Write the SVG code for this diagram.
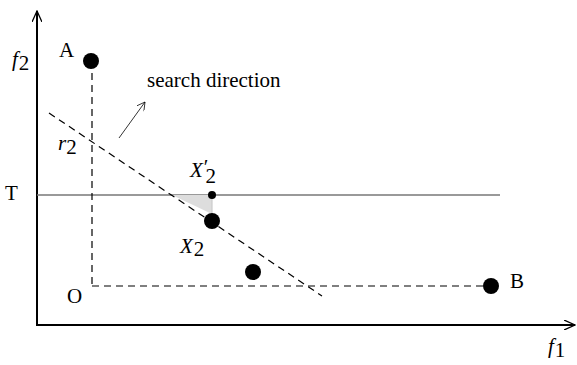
<svg xmlns="http://www.w3.org/2000/svg" width="577" height="365" viewBox="0 0 577 365">
<defs>
<style>
text{font-family:"Liberation Serif","Times New Roman",serif;font-size:21px;fill:#000}
.it{font-style:italic}
.sub{font-style:normal}
.dash{stroke:#000;stroke-width:1.2;stroke-dasharray:7,5;fill:none}
.dot{fill:#000}
</style>
<marker id="ah" viewBox="0 0 12 10" refX="11" refY="5" markerWidth="12" markerHeight="10" markerUnits="userSpaceOnUse" orient="auto">
<path d="M0,0 L11,5 L0,10" fill="none" stroke="#000" stroke-width="1.3"/>
</marker>
<marker id="ah2" viewBox="0 0 10 10" refX="9" refY="5" markerWidth="10" markerHeight="9" markerUnits="userSpaceOnUse" orient="auto">
<path d="M0,0 L9,5 L0,10" fill="none" stroke="#000" stroke-width="0.8"/>
</marker>
</defs>
<g id="connectors">
<line x1="37" y1="326" x2="37" y2="11" stroke="#000" stroke-width="2" marker-end="url(#ah)"/>
<line x1="36" y1="325" x2="575" y2="325" stroke="#000" stroke-width="2" marker-end="url(#ah)"/>
<line x1="37" y1="195" x2="500" y2="195" stroke="#777" stroke-width="1.5"/>
<polygon points="172,195 212,195 212,214" fill="#ddd"/>
<line x1="212" y1="195" x2="212" y2="215" stroke="#ccc" stroke-width="1.2"/>
<line class="dash" x1="92" y1="61" x2="92" y2="286"/>
<line class="dash" x1="92" y1="286" x2="490" y2="286"/>
<line class="dash" x1="49" y1="113" x2="322" y2="296"/>
<line x1="119" y1="138" x2="145" y2="102" stroke="#000" stroke-width="0.8" marker-end="url(#ah2)"/>
</g>
<g id="A"><circle class="dot" cx="91" cy="61" r="8"/><text x="59" y="57">A</text></g>
<g id="B"><circle class="dot" cx="491" cy="286" r="8"/><text x="510" y="288">B</text></g>
<g id="O"><text x="67" y="303">O</text></g>
<g id="T"><text x="5" y="200">T</text></g>
<g id="X2p"><circle class="dot" cx="212" cy="195" r="4"/><text x="190" y="177" class="it">X<tspan class="sub" dx="1" dy="-3">′</tspan><tspan class="sub" dx="-3" dy="9">2</tspan></text></g>
<g id="X2"><circle class="dot" cx="212" cy="221" r="8"/><text x="180" y="253" class="it">X<tspan class="sub" dx="1" dy="3">2</tspan></text></g>
<g id="P3"><circle class="dot" cx="253" cy="272" r="8"/></g>
<g id="labels">
<text x="147" y="87" font-size="22">search direction</text>
<text x="58" y="150" class="it">r<tspan class="sub" dy="4">2</tspan></text>
<text x="12" y="66" class="it">f<tspan class="sub" dx="1" dy="4">2</tspan></text>
<text x="548" y="353" class="it">f<tspan class="sub" dx="1" dy="4">1</tspan></text>
</g>
</svg>
